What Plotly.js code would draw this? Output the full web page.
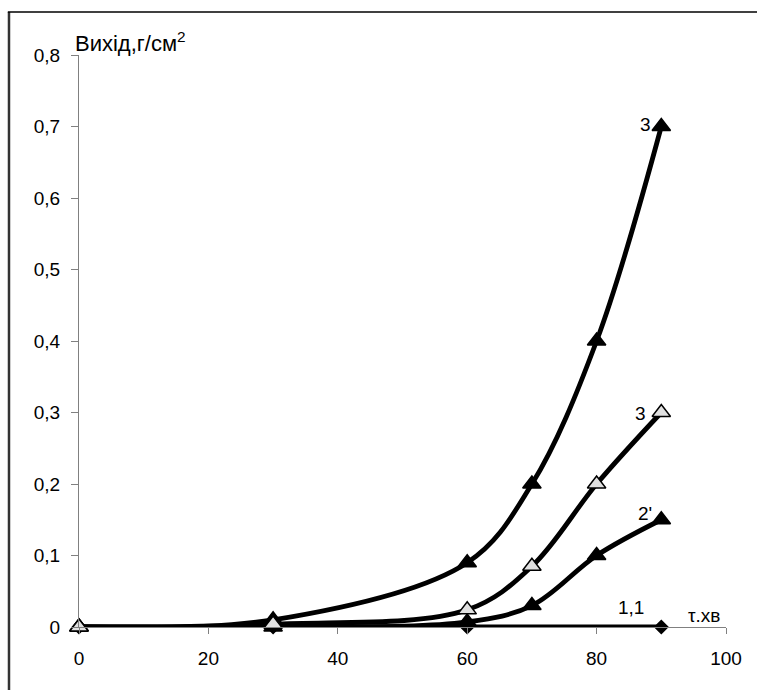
<!DOCTYPE html>
<html>
<head>
<meta charset="utf-8">
<script src="https://cdn.plot.ly/plotly-3.0.1.min.js"></script>
<style>html,body{margin:0;padding:0;background:#fff;}#chart{width:757px;height:690px;}</style>
</head>
<body>
<div id="chart"></div>
<script>
// Time, min
var tA = [0, 30, 60, 70, 80, 90];
var yieldA = [0, 0.01, 0.09, 0.2, 0.4, 0.7];      // curve "3" (filled)
var tB = [0, 30, 60, 70, 80, 90];
var yieldB = [0, 0.004, 0.024, 0.085, 0.2, 0.3];  // curve "3" (open)
var tC = [0, 30, 60, 70, 80, 90];
var yieldC = [0, 0, 0.007, 0.03, 0.1, 0.15];      // curve "2'"
var tD = [0, 30, 60, 90];
var yieldD = [0, 0, 0, 0];                        // curve "1,1"

var xTicks = [0, 20, 40, 60, 80, 100];
var yTicks = [0, 0.1, 0.2, 0.3, 0.4, 0.5, 0.6, 0.7, 0.8];

var curveLabels = [
  {text: "3", x: 87.6, y: 0.703},
  {text: "3", x: 86.8, y: 0.299},
  {text: "2'", x: 87.5, y: 0.159},
  {text: "1,1", x: 85.3, y: 0.027},
  {text: "τ.хв", x: 96.6, y: 0.0154}
];

var FONT = "Liberation Sans, Arial, sans-serif";

function line(x, y, sym, size, fill, w) {
  return {
    x: x, y: y, type: "scatter", mode: "lines+markers", cliponaxis: false,
    line: {color: "#000", width: w, shape: "spline", smoothing: 1},
    marker: {symbol: sym, size: size, color: fill, line: {color: "#000", width: 1.5}},
    showlegend: false, hoverinfo: "skip"
  };
}

var data = [
  line(tD, yieldD, "diamond", 10, "#000", 5),
  line(tC, yieldC, "triangle-up", 16, "#000", 4.8),
  line(tA, yieldA, "triangle-up", 16, "#000", 4.8),
  line(tB, yieldB, "triangle-up", 16, "#e0e0e0", 4.8)
];

var annotations = curveLabels.map(function (l) {
  return {x: l.x, y: l.y, xref: "x", yref: "y", text: l.text, showarrow: false,
          xanchor: "center", yanchor: "middle", font: {family: FONT, size: 19, color: "#000"}};
});
annotations.push({x: 0.079, y: 0.995, xref: "paper", yref: "paper", text: "Вихід,г/см<sup>2</sup>",
  showarrow: false, xanchor: "center", yanchor: "bottom", font: {family: FONT, size: 22, color: "#000"}});

var layout = {
  width: 757, height: 690,
  margin: {l: 79, r: 31, t: 55, b: 63},
  paper_bgcolor: "#fff", plot_bgcolor: "#fff",
  separators: ", ",
  font: {family: FONT, size: 19, color: "#000"},
  xaxis: {
    range: [0, 100], tickvals: xTicks, showgrid: false, zeroline: false,
    showline: true, linecolor: "#808080", linewidth: 1,
    ticks: "outside", ticklen: 6, tickcolor: "#808080", ticklabelstandoff: 8,
    tickfont: {family: FONT, size: 19, color: "#000"}
  },
  yaxis: {
    range: [0, 0.8], tickvals: yTicks, showgrid: false, zeroline: false,
    showline: true, linecolor: "#808080", linewidth: 1,
    ticks: "outside", ticklen: 7, tickcolor: "#808080", ticklabelstandoff: 7,
    tickfont: {family: FONT, size: 19, color: "#000"}
  },
  annotations: annotations,
  shapes: [
    {type: "line", xref: "paper", yref: "paper", x0: -0.1082, x1: -0.1082, y0: -0.12, y1: 1.0752,
     line: {color: "#333", width: 2.5}},
    {type: "line", xref: "paper", yref: "paper", x0: -0.11, x1: 1.06, y0: 1.0752, y1: 1.0752,
     line: {color: "#000", width: 1.5}}
  ]
};

Plotly.newPlot("chart", data, layout, {displayModeBar: false, staticPlot: true});
</script>
</body>
</html>
